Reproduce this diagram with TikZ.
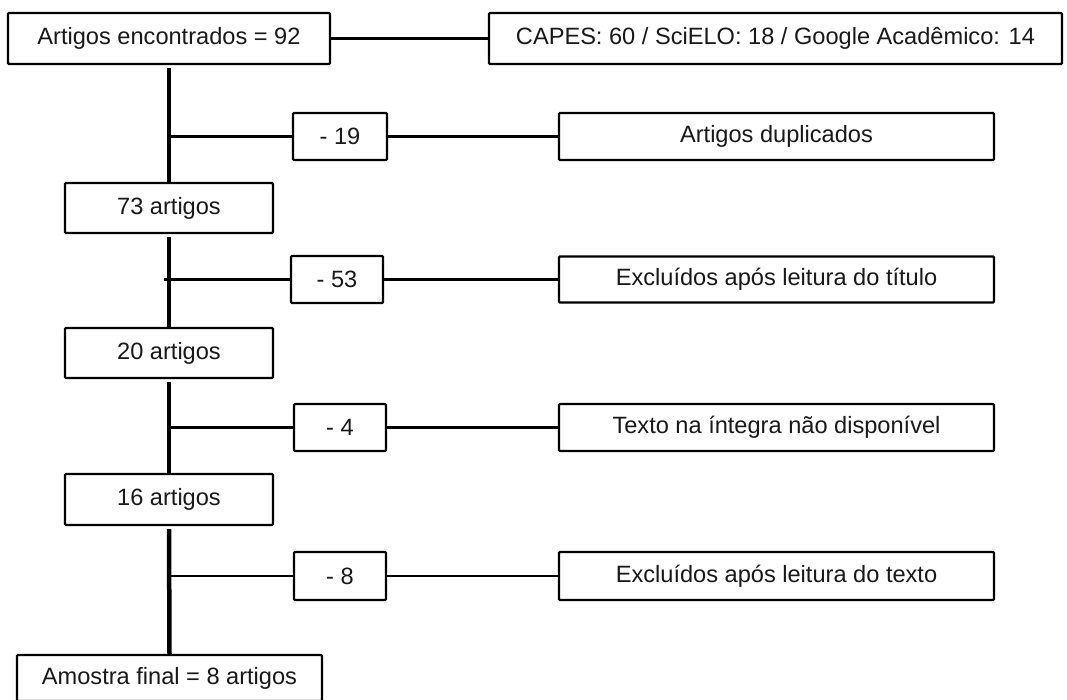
\documentclass[tikz,border=0pt]{standalone}
\usepackage{fontspec}
\setmainfont{Liberation Sans}
\begin{document}
\begin{tikzpicture}[x=1pt,y=-1pt,
  box/.style={draw=black,line width=2.4pt,rounded corners=1pt,fill=white,inner sep=0pt,
    font=\fontsize{23.6pt}{28pt}\selectfont,text=black!90},
  trunkline/.style={line width=4.5pt,black},
  branchline/.style={line width=2.3pt,black}]
\useasboundingbox (0,0) rectangle (1067,700);
\fill[white] (0,0) rectangle (1067,700);
% main column
\node[box,minimum width=322pt,minimum height=51pt] (top) at (169,38.5) {Artigos encontrados = 92};
\node[box,minimum width=573pt,minimum height=51pt] (capes) at (775.5,38.5) {CAPES: 60 / SciELO: 18 / Google Acadêmico: 14};
\node[box,minimum width=208pt,minimum height=50pt] (a73) at (169,208) {73 artigos};
\node[box,minimum width=208pt,minimum height=50pt] (a20) at (169,353) {20 artigos};
\node[box,minimum width=208pt,minimum height=51pt] (a16) at (169,499.5) {16 artigos};
\node[box,minimum width=305pt,minimum height=46pt] (fin) at (169.5,678) {Amostra final = 8 artigos};
% minus boxes
\node[box,minimum width=94pt,minimum height=47pt] (m19) at (340,136.5) {- 19};
\node[box,minimum width=92pt,minimum height=47pt] (m53) at (337,279.5) {- 53};
\node[box,minimum width=92pt,minimum height=47pt] (m4) at (340,427.5) {- 4};
\node[box,minimum width=92pt,minimum height=48pt] (m8) at (340,576) {- 8};
% reason boxes
\node[box,minimum width=435pt,minimum height=47pt] (dup) at (776.5,136.5) {Artigos duplicados};
\node[box,minimum width=435pt,minimum height=46pt] (tit) at (776.5,279.5) {Excluídos após leitura do título};
\node[box,minimum width=435pt,minimum height=47pt] (txt) at (776.5,427.5) {Texto na íntegra não disponível};
\node[box,minimum width=435pt,minimum height=48pt] (ext) at (776.5,576) {Excluídos após leitura do texto};
% connectors
\draw[branchline] (top.east) -- (capes.west);
\draw[trunkline,shorten <=3pt] (top.south) -- (a73.north);
\draw[trunkline,shorten <=3pt] (a73.south) -- (a20.north);
\draw[trunkline,shorten <=3pt] (a20.south) -- (a16.north);
\draw[trunkline,shorten <=3pt] (a16.south) -- (fin.north);
\draw[branchline] (m19.west -| top.south) -- (m19.west);
\draw[branchline] (m19.east) -- (dup.west);
\draw[branchline] ([xshift=-5pt]m53.west -| top.south) -- (m53.west);
\draw[branchline] (m53.east) -- (tit.west);
\draw[branchline] (m4.west -| top.south) -- (m4.west);
\draw[branchline] (m4.east) -- (txt.west);
\draw[branchline] (m8.west -| top.south) -- (m8.west);
\draw[branchline] (m8.east) -- (ext.west);
\end{tikzpicture}
\end{document}
